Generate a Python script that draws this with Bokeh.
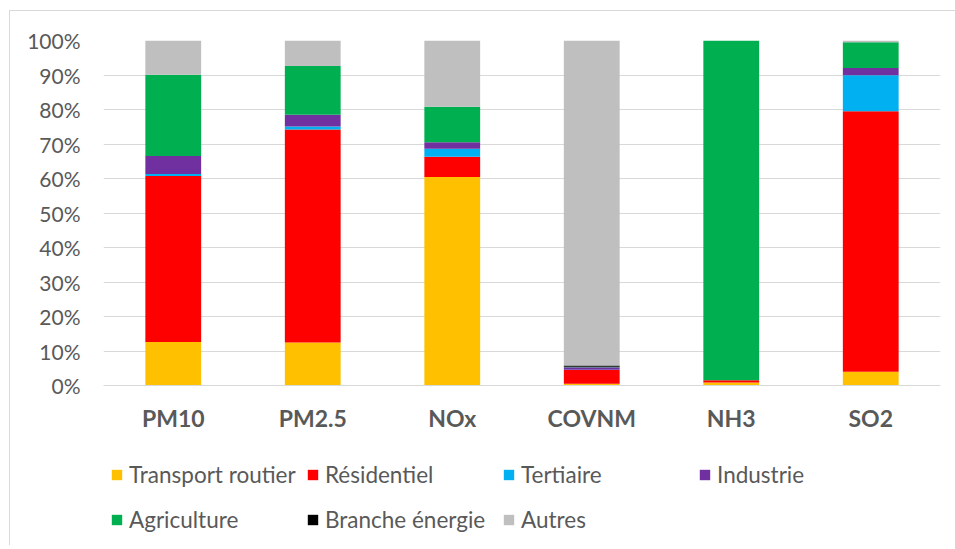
from bokeh.plotting import figure
from bokeh.layouts import column
from bokeh.models import ColumnDataSource, FactorRange, FixedTicker, PrintfTickFormatter, Legend, LegendItem, Range1d
from bokeh.embed import file_html
from bokeh.resources import INLINE

categories = ["PM10", "PM2.5", "NOx", "COVNM", "NH3", "SO2"]
sectors = ["Transport routier", "Résidentiel", "Tertiaire", "Industrie",
           "Agriculture", "Branche énergie", "Autres"]
transport = [12.6, 12.5, 60.4, 0.5, 0.9, 4.0]
residentiel = [48.1, 61.7, 5.9, 4.0, 0.6, 75.5]
tertiaire = [0.6, 0.9, 2.3, 0.1, 0.0, 10.4]
industrie = [5.2, 3.4, 1.9, 0.7, 0.0, 2.1]
agriculture = [23.6, 14.1, 10.3, 0.1, 98.5, 7.5]
energie = [0.0, 0.0, 0.0, 0.4, 0.0, 0.0]
autres = [9.9, 7.4, 19.2, 94.2, 0.0, 0.5]
colors = ["#FFC000", "#FF0000", "#00B0F0", "#7030A0", "#00B050", "#000000", "#BFBFBF"]
y_ticks = [0, 10, 20, 30, 40, 50, 60, 70, 80, 90, 100]

keys = ["s0", "s1", "s2", "s3", "s4", "s5", "s6"]
series = [transport, residentiel, tertiaire, industrie, agriculture, energie, autres]
data = {"cat": categories}
for k, s in zip(keys, series):
    data[k] = s
source = ColumnDataSource(data)

FONT = "Lato"
TXT = "#595959"

p = figure(x_range=FactorRange(*categories, range_padding=0.0), y_range=Range1d(0, 100),
           width=945, height=434, output_backend="svg", toolbar_location=None,
           min_border_left=93, min_border_right=15, min_border_top=29, min_border_bottom=60)
p.x_range.factor_padding = 0.0

renderers = p.vbar_stack(keys, x="cat", width=0.4, color=colors, source=source, line_width=0)

p.outline_line_color = None
p.xgrid.grid_line_color = None
p.ygrid.grid_line_color = "#D9D9D9"
p.ygrid.grid_line_width = 1
p.ygrid.ticker = FixedTicker(ticks=y_ticks)

p.yaxis.ticker = FixedTicker(ticks=y_ticks)
p.yaxis.formatter = PrintfTickFormatter(format="%d%%")
p.yaxis.axis_line_color = None
p.yaxis.major_tick_line_color = None
p.yaxis.minor_tick_line_color = None
p.yaxis.major_tick_out = 0
p.yaxis.major_label_standoff = 23
p.yaxis.major_label_text_font = FONT
p.yaxis.major_label_text_font_size = "21px"
p.yaxis.major_label_text_color = TXT

p.xaxis.axis_line_color = "#D9D9D9"
p.xaxis.major_tick_line_color = None
p.xaxis.minor_tick_line_color = None
p.xaxis.major_tick_out = 0
p.xaxis.major_label_standoff = 18
p.xaxis.major_label_text_font = FONT
p.xaxis.major_label_text_font_size = "23px"
p.xaxis.major_label_text_font_style = "bold"
p.xaxis.major_label_text_color = TXT

# legend strip: a second figure below the chart whose own bars fall outside its
# (empty) view, so only the legend swatches and labels are visible
p2 = figure(x_range=FactorRange(*categories, range_padding=0.0), y_range=Range1d(1000, 1100),
            width=945, height=100, output_backend="svg", toolbar_location=None,
            min_border_left=93, min_border_right=15, min_border_top=2, min_border_bottom=0)
p2.x_range.factor_padding = 0.0
p2.axis.visible = False
p2.grid.grid_line_color = None
p2.outline_line_color = None
swatches = p2.vbar_stack(keys, x="cat", width=0.4, color=colors, source=source, line_width=0)

items = [LegendItem(label=name, renderers=[r]) for name, r in zip(sectors, swatches)]
legend = Legend(items=items, orientation="horizontal", ncols=4, location="top_left",
                glyph_width=13, glyph_height=13, label_height=40, label_width=172,
                label_standoff=6, spacing=5, padding=0, margin=7,
                border_line_alpha=0, background_fill_alpha=0,
                label_text_font=FONT, label_text_font_size="22.5px", label_text_color=TXT)
p2.add_layout(legend, "center")

layout = column(p, p2, spacing=0)
layout.styles = {"border-left": "1px solid #D9D9D9", "border-top": "1px solid #D9D9D9",
                 "margin-left": "9px", "margin-top": "10px"}

open("out.html", "w").write(file_html(layout, INLINE))
